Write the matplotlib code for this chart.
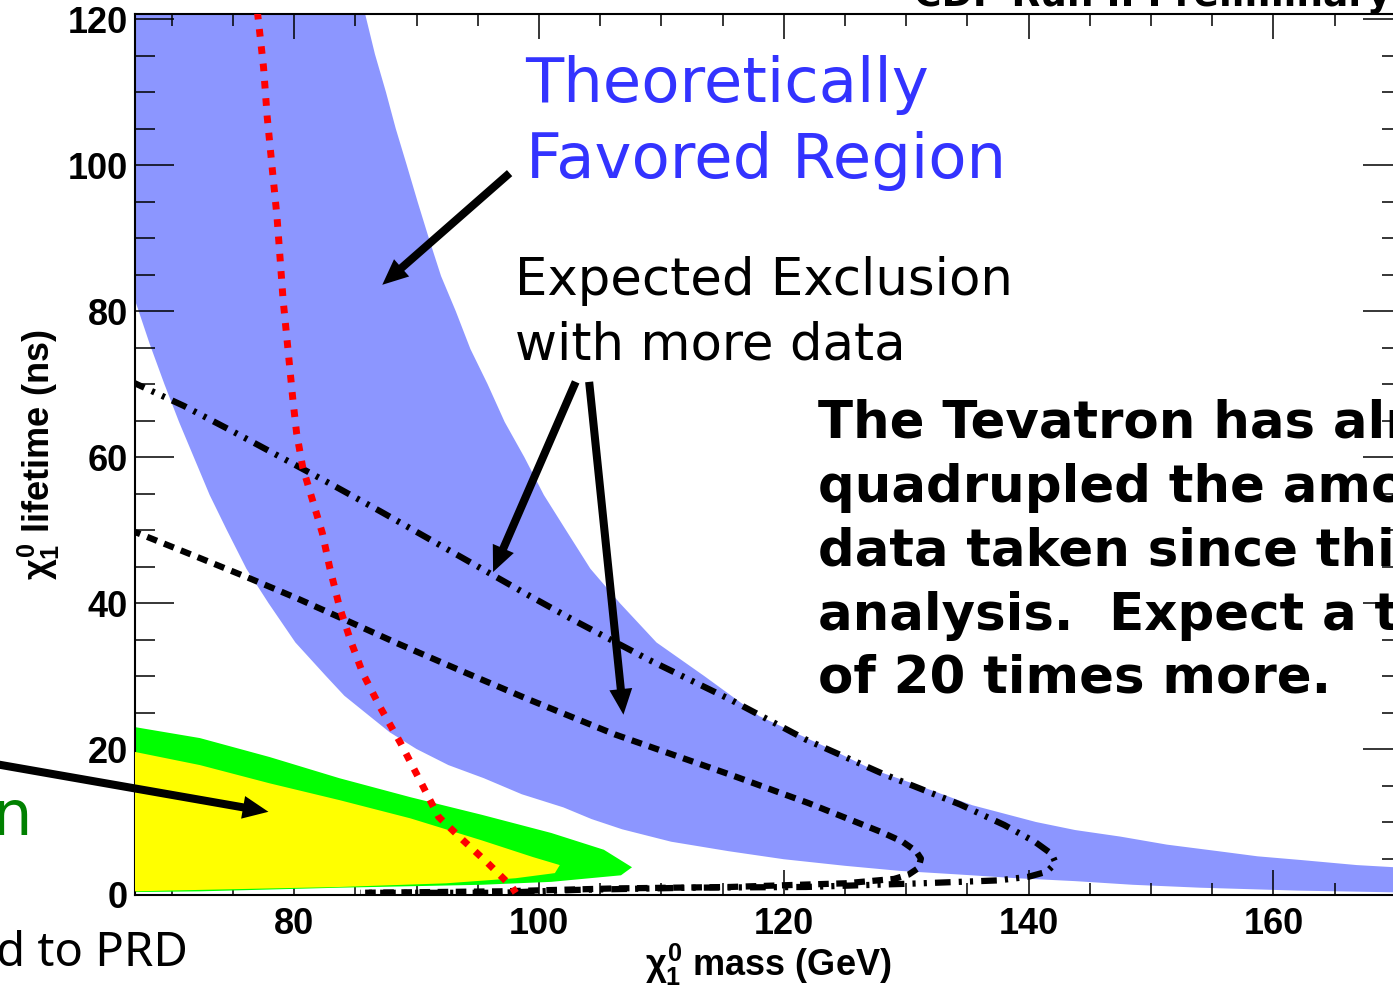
import numpy as np
import matplotlib.pyplot as plt
from matplotlib.ticker import MultipleLocator

# Theoretically favored band (upper / lower edge), neutralino mass vs lifetime
theory_upper_m = [85.5, 85.8, 86.6, 87.5, 88.3, 89.2, 90.1, 91.0, 92.0, 93.2, 94.4, 95.8,
                  97.2, 98.8, 100.4, 102.2, 104.2, 106.6, 109.6, 113.5, 118.0, 123.8, 127.1,
                  131.0, 135.4, 140.6, 143.8, 147.5, 151.3, 155.5, 158.7, 162.2, 166.8, 172.0]
theory_upper_tau = [122.0, 120.7, 115.2, 110.0, 105.0, 100.0, 94.9, 90.0, 84.8, 80.0, 74.8,
                    70.0, 64.8, 60.0, 54.8, 50.0, 44.7, 40.0, 34.6, 30.0, 24.5, 20.0, 17.3,
                    15.0, 12.3, 10.0, 8.9, 8.0, 6.9, 6.0, 5.3, 4.8, 4.1, 3.6]
theory_lower_m = [60.0, 67.0, 68.2, 69.4, 70.6, 71.8, 73.1, 74.5, 76.1, 77.9, 80.1, 82.6,
                  84.1, 85.8, 87.8, 90.0, 92.6, 95.5, 98.6, 102.0, 104.3, 106.8, 110.8,
                  115.5, 120.0, 125.0, 129.5, 134.4, 139.0, 143.8, 148.5, 154.0, 162.0, 172.0]
theory_lower_tau = [125.0, 81.5, 75.5, 70.0, 64.8, 60.0, 54.8, 50.0, 44.7, 40.0, 34.6, 30.0,
                    27.3, 25.0, 22.3, 20.0, 17.8, 16.0, 13.8, 12.0, 10.4, 9.0, 7.3, 6.0, 4.9,
                    4.0, 3.3, 2.8, 2.3, 1.9, 1.4, 1.0, 0.6, 0.3]

# observed exclusion (green = outer, yellow = inner)
green_m = [66.0, 67.0, 72.3, 78.0, 83.7, 89.5, 95.3, 101.0, 105.3, 107.6, 106.7, 101.0,
           95.3, 83.7, 72.3, 67.0, 66.0]
green_tau = [23.2, 23.0, 21.5, 18.9, 16.0, 13.4, 11.0, 8.5, 6.2, 3.8, 2.7, 1.8, 1.4, 1.0,
             0.5, 0.4, 0.4]
yellow_m = [66.0, 67.0, 72.3, 78.0, 83.7, 89.5, 95.3, 99.5, 101.7, 101.3, 98.1, 92.4, 83.7,
            72.3, 67.0, 66.0]
yellow_tau = [19.8, 19.6, 17.8, 15.3, 13.0, 10.5, 7.5, 5.2, 4.1, 3.0, 2.3, 1.6, 1.1, 0.7,
              0.5, 0.5]

# red dotted limit
red_m = [77.0, 77.5, 77.8, 78.2, 78.6, 78.8, 79.1, 79.5, 79.9, 80.2, 80.7, 81.5, 82.3, 82.9,
         83.7, 84.6, 85.6, 87.0, 88.7, 90.4, 91.8, 93.8, 95.8, 97.8, 98.1]
red_tau = [121.0, 113.4, 106.6, 99.7, 92.9, 88.4, 81.5, 74.7, 67.8, 63.3, 58.6, 54.1, 49.6,
           44.9, 39.5, 34.9, 30.4, 25.8, 20.8, 15.3, 10.7, 7.5, 4.4, 1.1, 0.3]

# expected exclusion contours with more data
exp1_m = [66.6, 67.2, 72.1, 76.2, 80.3, 84.3, 88.4, 93.8, 99.0, 106.2, 115.6, 122.0, 125.0,
          128.0, 129.7, 130.8, 131.2, 131.0, 130.2, 129.0, 125.0, 115.6, 106.2, 96.8, 85.4]
exp1_tau = [49.9, 49.6, 46.3, 43.5, 40.6, 37.6, 34.5, 30.6, 26.9, 22.0, 16.5, 12.6, 10.6,
            8.6, 7.3, 6.0, 5.0, 3.7, 2.8, 2.2, 1.6, 1.1, 0.9, 0.5, 0.3]
exp2_m = [66.6, 67.0, 71.0, 75.0, 79.0, 83.0, 87.0, 91.0, 95.0, 99.0, 103.0, 109.0, 115.6,
          121.8, 128.1, 134.4, 138.0, 140.5, 141.9, 142.2, 141.5, 140.0, 137.5, 131.2, 121.8,
          112.4, 103.1, 96.8, 85.4]
exp2_tau = [70.4, 70.1, 67.0, 63.5, 59.9, 56.3, 52.6, 48.8, 45.0, 41.2, 37.5, 32.2, 26.8,
            21.3, 16.6, 12.4, 9.6, 7.3, 5.6, 4.4, 3.2, 2.5, 2.0, 1.6, 1.1, 1.0, 0.7, 0.3, 0.3]

x_ticks = [80, 100, 120, 140, 160]
y_ticks = [0, 20, 40, 60, 80, 100, 120]

plt.rcParams['mathtext.fontset'] = 'custom'
plt.rcParams['mathtext.rm'] = 'Liberation Sans:bold'
plt.rcParams['mathtext.it'] = 'Liberation Sans:bold'
plt.rcParams['mathtext.bf'] = 'Liberation Sans:bold'

fig = plt.figure(figsize=(13.93, 9.94), dpi=100)
ax = fig.add_axes([135 / 1393, 99 / 994, 1267 / 1393, 881 / 994])

band_m = theory_upper_m + theory_lower_m[::-1]
band_tau = theory_upper_tau + theory_lower_tau[::-1]
ax.fill(band_m, band_tau, color='#8c96ff', lw=0, zorder=1)
ax.fill(green_m, green_tau, color='#00ff00', lw=0, zorder=2)
ax.fill(yellow_m, yellow_tau, color='#ffff00', lw=0, zorder=3)

ax.plot(exp2_m, exp2_tau, color='black', lw=4.5, dashes=[2.5, 1.3, 0.5, 1.3, 0.5, 1.3],
        zorder=4)
ax.plot(exp1_m, exp1_tau, color='black', lw=4.5, dashes=[1.7, 1.2], zorder=4)
ax.plot(red_m, red_tau, color='red', lw=5, dashes=[1.1, 1.4], zorder=5)

ax.set_xlim(67, 170.5)
ax.set_ylim(0, 120.7)
ax.set_xticks(x_ticks)
ax.set_yticks(y_ticks)
ax.xaxis.set_minor_locator(MultipleLocator(5))
ax.yaxis.set_minor_locator(MultipleLocator(5))
ax.tick_params(which='both', direction='in', top=True, right=True, width=1.1, color='black')
ax.tick_params(axis='x', which='major', length=18, pad=9)
ax.tick_params(axis='x', which='minor', length=8.6)
ax.tick_params(axis='y', which='major', length=28, pad=5)
ax.tick_params(axis='y', which='minor', length=14.4)
for lab in ax.get_xticklabels() + ax.get_yticklabels():
    lab.set_fontfamily('Liberation Sans')
    lab.set_fontweight('bold')
    lab.set_fontsize(26)
for sp in ax.spines.values():
    sp.set_linewidth(1.5)

ax.set_xlabel(r'$\chi^{0}_{1}$ mass (GeV)', fontfamily='Liberation Sans', fontweight='bold',
              fontsize=26, va='baseline')
ax.xaxis.set_label_coords(0.5, -0.0915)
ax.set_ylabel(r'$\chi^{0}_{1}$ lifetime (ns)', fontfamily='Liberation Sans', fontweight='bold',
              fontsize=26, va='baseline')
ax.yaxis.set_label_coords(-0.067, 0.5)

# annotations
ax.text(98.9, 108.6, 'Theoretically', fontsize=45, color='#3333ff', clip_on=False)
ax.text(98.9, 98.2, 'Favored Region', fontsize=45, color='#3333ff', clip_on=False)
ax.text(98.05, 82.2, 'Expected Exclusion', fontsize=37, color='black', clip_on=False)
ax.text(98.05, 73.3, 'with more data', fontsize=37, color='black', clip_on=False)

note = ['The Tevatron has already', 'quadrupled the amount of', 'data taken since this',
        'analysis.  Expect a total', 'of 20 times more.']
note_y = [62.6, 53.8, 45.1, 36.3, 27.7]
for s, yy in zip(note, note_y):
    ax.text(122.8, yy, s, fontsize=37, fontweight='bold', color='black', clip_on=False)

ax.text(58.7, 8.2, 'Exclusion', fontsize=45, color='#008000', ha='right', clip_on=False)
ax.text(71.3, -9.7, 'Submitted to PRD', fontsize=34, family='Noto Sans', color='black',
        ha='right', clip_on=False)
fig.text(914 / 1393, 1 - 6 / 994, 'CDF Run II Preliminary', fontsize=27, fontweight='bold',
         va='baseline')

arrow = dict(facecolor='black', edgecolor='black', lw=0, width=5.8, headwidth=16.5,
             headlength=18.5, shrink=0)
ax.annotate('', xy=(87.2, 83.6), xytext=(97.6, 98.9), arrowprops=arrow, annotation_clip=False)
ax.annotate('', xy=(96.25, 44.25), xytext=(103.0, 70.3), arrowprops=arrow, annotation_clip=False)
ax.annotate('', xy=(106.9, 24.7), xytext=(104.1, 70.3), arrowprops=arrow, annotation_clip=False)
ax.annotate('', xy=(77.9, 11.4), xytext=(52.0, 19.0), arrowprops=arrow, annotation_clip=False)

fig.savefig('out.png', dpi=100)
